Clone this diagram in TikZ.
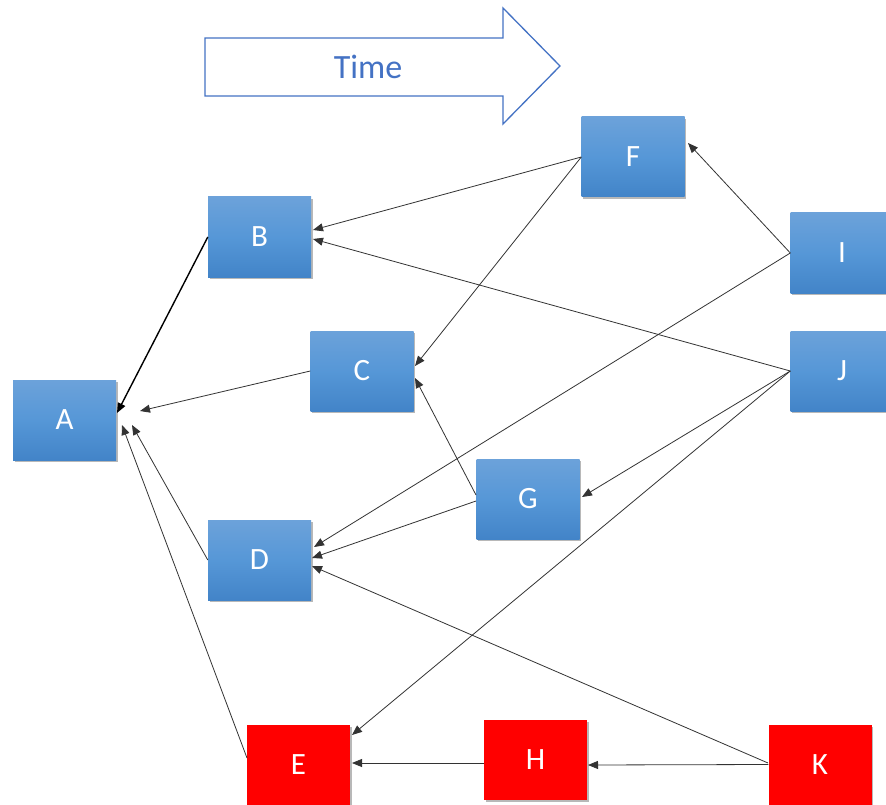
\documentclass[tikz,border=0pt]{standalone}
\usepackage{fontspec}
\setmainfont{Carlito}
\usetikzlibrary{arrows.meta,shadows}

\definecolor{timeblue}{RGB}{68,114,196}
\definecolor{boxtop}{RGB}{108,162,218}
\definecolor{boxmid}{RGB}{86,151,215}
\definecolor{boxbot}{RGB}{66,132,200}
\definecolor{boxred}{RGB}{255,0,0}

\tikzset{
  box/.style={rectangle, minimum width=103pt, minimum height=80pt, inner sep=0pt,
    text=white, font=\fontsize{31}{31}\selectfont,
    drop shadow={shadow xshift=1.5pt, shadow yshift=-2pt, opacity=0.28, fill=black}},
  bluebox/.style={box, top color=boxtop, bottom color=boxbot, middle color=boxmid},
  redbox/.style={box, fill=boxred},
  link/.style={draw=black!80, line width=0.8pt, -{Triangle[length=10pt,width=8pt]}},
  boldlink/.style={link, draw=black, line width=1.4pt}
}

\begin{document}
\begin{tikzpicture}[x=1pt,y=-1pt]
\useasboundingbox (0,0) rectangle (886,805);
\clip (0,0) rectangle (886,805);
\fill[white] (0,0) rectangle (886,805);

% time arrow
\draw[timeblue, line width=1.3pt, line join=miter]
  (205,38) -- (503,38) -- (503,8) -- (560,66) -- (503,124) -- (503,96) -- (205,96) -- cycle;
\node[text=timeblue, font=\fontsize{34}{34}\selectfont] (time) at (368,67) {Time};

% nodes
\node[bluebox] (A) at (64.5,420) {A};
\node[bluebox] (B) at (259.5,237) {B};
\node[bluebox] (C) at (362,371) {C};
\node[bluebox] (D) at (259.5,560) {D};
\node[bluebox] (F) at (633,157) {F};
\node[bluebox] (G) at (528,499) {G};
\node[bluebox] (I) at (842,253) {I};
\node[bluebox] (J) at (842,371) {J};
\node[redbox] (E) at (298.5,764.5) {E};
\node[redbox] (H) at (535.5,760) {H};
\node[redbox] (K) at (820,764.5) {K};

% arrow tips that stop short of the box edges
\coordinate (tBA) at (117,413);
\coordinate (tCA) at (140,411);
\coordinate (tDA) at (132,425);
\coordinate (tEA) at (122,425);
\coordinate (tFB) at (313,230);
\coordinate (tJB) at (313,239);
\coordinate (tFC) at (415,366);
\coordinate (tGC) at (415,378);
\coordinate (tIF) at (688,143);
\coordinate (tID) at (314,547);
\coordinate (tGD) at (312,558);
\coordinate (tKD) at (312,566);
\coordinate (tJG) at (582,497);
\coordinate (tJE) at (352,735);
\coordinate (tKH) at (588,765);
\coordinate (tHE) at (352,763);
% line starts that sit off the middle of a side
\coordinate (sE) at (247,758);
\coordinate (sGC) at (476,495);
\coordinate (sGD) at (476,501);
\coordinate (sK) at (768,763);
\coordinate (sH) at (484,763);

% connectors
\draw[boldlink] (B.west) -- (tBA);
\draw[link] (C.west) -- (tCA);
\draw[link] (D.west) -- (tDA);
\draw[link] (sE) -- (tEA);
\draw[link] (F.west) -- (tFB);
\draw[link] (J.west) -- (tJB);
\draw[link] (F.west) -- (tFC);
\draw[link] (sGC) -- (tGC);
\draw[link] (I.west) -- (tIF);
\draw[link] (I.west) -- (tID);
\draw[link] (sGD) -- (tGD);
\draw[link] (sK) -- (tKD);
\draw[link] (J.west) -- (tJG);
\draw[link] (J.west) -- (tJE);
\draw[link] (K.west) -- (tKH);
\draw[link] (sH) -- (tHE);
\end{tikzpicture}
\end{document}
